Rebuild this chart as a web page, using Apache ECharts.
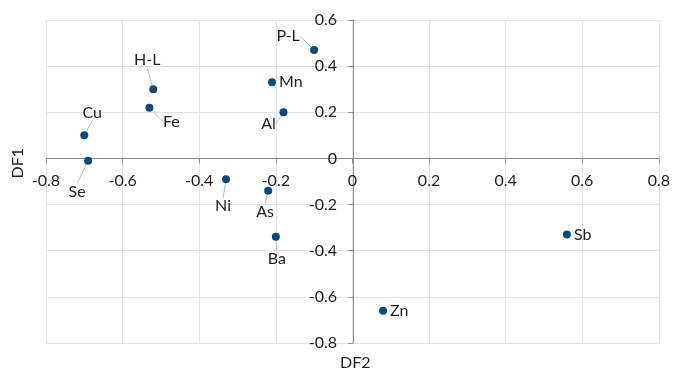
<!DOCTYPE html>
<html>
<head>
<meta charset="utf-8">
<script src="https://cdn.jsdelivr.net/npm/echarts@6/dist/echarts.min.js"></script>
<style>html,body{margin:0;padding:0;background:#fff}#c{width:673px;height:370px}</style>
</head>
<body>
<div id="c"></div>
<script>
const names = ['P-L','Mn','Al','H-L','Fe','Cu','Se','Ni','As','Ba','Sb','Zn'];
const df2 = [-0.10,-0.21,-0.18,-0.52,-0.53,-0.70,-0.69,-0.33,-0.22,-0.20,0.56,0.08];
const df1 = [0.47,0.33,0.20,0.30,0.22,0.10,-0.01,-0.09,-0.14,-0.34,-0.33,-0.66];
const xTicks = [-0.8,-0.6,-0.4,-0.2,0,0.2,0.4,0.6,0.8];
const yTicks = [-0.8,-0.6,-0.4,-0.2,0,0.2,0.4,0.6];

// label placement (style only): offset of label centre from point, px
const labelOffsets = {
  'P-L':[-26,-14], 'Al':[-15,12], 'H-L':[-6,-29], 'Fe':[22,14], 'Cu':[8,-23],
  'Se':[-11,31], 'Ni':[-3,27], 'As':[-3,21], 'Ba':[1,22]
};

const W = 673, H = 370;
const G = {left:46, right:13, top:20, bottom:27};
const xMin = xTicks[0], xMax = xTicks[xTicks.length-1];
const yMin = yTicks[0], yMax = yTicks[yTicks.length-1];
const plotW = W - G.left - G.right, plotH = H - G.top - G.bottom;
// shift axes so they sit on the other axis' zero
const xAxisOffset = -((0 - yMin) / (yMax - yMin)) * plotH;
const yAxisOffset = -((0 - xMin) / (xMax - xMin)) * plotW;

const FONT = 'Lato, "Open Sans", sans-serif';
const FS = 16;
const TXT = '#1e1e1e';
const chart = echarts.init(document.getElementById('c'));
const data = names.map((n,i)=>{
  const moved = !!labelOffsets[n];
  return {
    name:n, value:[df2[i], df1[i]],
    label:{position: moved ? 'inside' : 'right', distance:3},
    labelLine:{show: moved}
  };
});
const fmt = v => String(Math.round(v*10)/10);
chart.setOption({
  animation:false,
  grid:{left:G.left,right:G.right,top:G.top,bottom:G.bottom,containLabel:false},
  xAxis:{type:'value',min:xMin,max:xMax,interval:0.2,position:'bottom',offset:xAxisOffset,
    axisLine:{onZero:false,lineStyle:{color:'#8c8c8c',width:1}},
    axisTick:{show:true,length:5,lineStyle:{color:'#8c8c8c'}},
    axisLabel:{margin:14,fontSize:FS,color:TXT,fontFamily:FONT,formatter:fmt},
    splitLine:{show:true,lineStyle:{color:'#e3e3e3'}}},
  yAxis:{type:'value',min:yMin,max:yMax,interval:0.2,position:'left',offset:yAxisOffset,
    axisLine:{onZero:false,lineStyle:{color:'#8c8c8c',width:1}},
    axisTick:{show:true,length:5,lineStyle:{color:'#8c8c8c'}},
    axisLabel:{margin:16,fontSize:FS,color:TXT,fontFamily:FONT,formatter:fmt},
    splitLine:{show:true,lineStyle:{color:'#e3e3e3'}}},
  graphic:[
    {type:'text',left:10,top:148,rotation:Math.PI/2,style:{text:'DF1',fill:TXT,font:FS+'px '+FONT}},
    {type:'text',left:340,top:355,style:{text:'DF2',fill:TXT,font:FS+'px '+FONT}}
  ],
  series:[{
    type:'scatter',symbolSize:8,
    itemStyle:{color:'#0b4a7a',opacity:1},
    label:{show:true,formatter:'{b}',fontSize:FS,color:TXT,fontFamily:FONT},
    labelLine:{lineStyle:{color:'#bfbfbf',width:1}},
    labelLayout:function(p){
      const n = names[p.dataIndex];
      const o = labelOffsets[n];
      if(!o) return {};
      return {dx:o[0], dy:o[1]};
    },
    data:data
  }]
});
</script>
</body>
</html>
